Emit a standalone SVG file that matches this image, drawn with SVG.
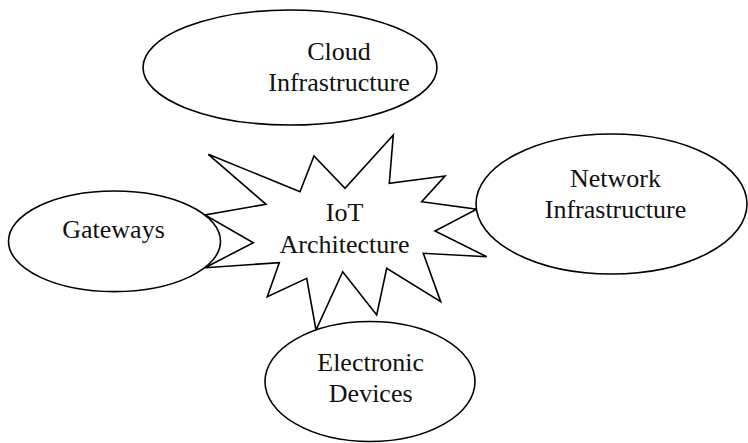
<svg xmlns="http://www.w3.org/2000/svg" width="748" height="443" viewBox="0 0 748 443">
<style>
.shape{fill:#fff;stroke:#000;stroke-width:1.6}
.t{font-family:"Liberation Serif","Times New Roman",serif;font-size:26px;fill:#111;text-anchor:middle}
</style>
<rect width="748" height="443" fill="#fff"/>
<g id="iot-architecture">
<polygon class="shape" points="208.3,154.3 300,191.7 314,156 345,188.3 393.3,135 389.3,183.3 445,176 421.7,201.7 476.7,209.3 435,231 486.7,256.7 423.3,253.3 440.7,301.7 386.7,268.3 376.7,315 342.7,271.7 316,330 306.7,278.3 267.3,296.7 279.3,262.7 205,267.7 253.3,242.7 205,215 266,204.3"/>
<text class="t" x="344.5" y="221">IoT</text>
<text class="t" x="344.5" y="252.7">Architecture</text>
</g>
<g id="connectors"></g>
<g id="cloud-infrastructure">
<ellipse class="shape" cx="290" cy="67.5" rx="147" ry="57.5"/>
<text class="t" x="339" y="60">Cloud</text>
<text class="t" x="339" y="90.7">Infrastructure</text>
</g>
<g id="gateways">
<ellipse class="shape" cx="114.5" cy="241.3" rx="106" ry="50.3"/>
<text class="t" x="113.5" y="237.7">Gateways</text>
</g>
<g id="network-infrastructure">
<ellipse class="shape" cx="611.5" cy="204" rx="135.5" ry="70"/>
<text class="t" x="615.5" y="186.7">Network</text>
<text class="t" x="615.5" y="218.3">Infrastructure</text>
</g>
<g id="electronic-devices">
<ellipse class="shape" cx="370" cy="381.5" rx="105" ry="60"/>
<text class="t" x="370.7" y="371">Electronic</text>
<text class="t" x="370.7" y="401.7">Devices</text>
</g>
</svg>
